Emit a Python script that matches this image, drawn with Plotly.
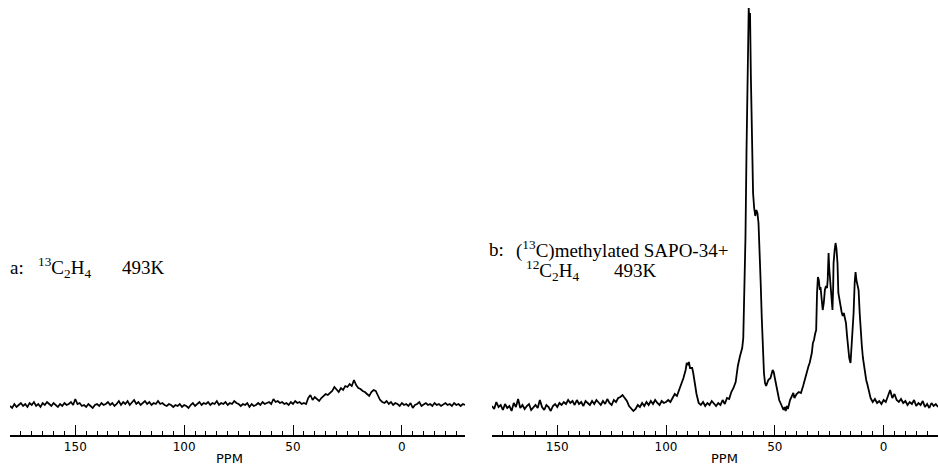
import plotly.graph_objects as go

# ---------------- Spectrum a: 13C2H4, 493K (1 ppm grid, 180 -> -29 ppm) ----------------
ppm_a = list(range(180, -30, -1))
int_a = [
    0, -2, 2, -1, 1, 3, 0, 2, -1, 3,      # 180-171
    1, 4, 0, 2, -1, 3, 1, 4, 2, 0,        # 170-161
    3, 1, -1, 2, 0, 3, 1, 2, 4, 1,        # 160-151
    7, 2, 3, 0, 1, -1, 2, 0, -2, 1,       # 150-141
    2, 0, 3, 1, 2, 4, 1, 3, 0, 2,         # 140-131
    5, 1, 4, 2, 5, 1, 3, 6, 2, 4,         # 130-121
    1, 3, 5, 2, 4, 1, 3, 2, 5, 2,         # 120-111
    3, 1, 0, 2, 1, -1, 1, 0, 2, -1,       # 110-101
    1, 0, -2, 1, 3, 0, 2, 4, 1, 3,        # 100-91
    2, 4, 1, 3, 2, 5, 1, 3, 2, 4,         # 90-81
    1, 3, 2, 5, 3, 2, 0, 2, 1, 3,         # 80-71
    -1, 2, 0, 1, 3, 1, 4, 2, 3, 4,        # 70-61
    2, 7, 4, 5, 3, 4, 2, 3, 1, 4,         # 60-51
    2, 5, 3, 4, 2, 3, 2, 8, 11, 6,        # 50-41
    9, 7, 5, 8, 10, 12, 11, 13, 15, 19,   # 40-31
    16, 14, 18, 16, 20, 19, 22, 20, 26, 21,  # 30-21
    18, 17, 15, 14, 12, 10, 14, 16, 15, 10,  # 20-11
    6, 4, 3, 5, 2, 4, 1, 3, 2, 0,         # 10-1
    3, 1, 2, 0, 3, -2, 1, 2, 4, 0,        # 0..-9
    2, 3, 1, 2, 0, 3, 1, 2, 0, 2,         # -10..-19
    3, 1, 2, 0, 3, 1, 2, 0, 2, 1,         # -20..-29
]

# ---------------- Spectrum b: (13C)methylated SAPO-34 + 12C2H4, 493K ----------------
# baseline part 180 -> 91 ppm
ppm_b1 = list(range(180, 90, -1))
int_b1 = [
    2, -1, 6, 1, 3, -2, 4, 0, 2, -3,
    5, 1, 9, 0, 3, -1, 2, 4, -2, 1,
    3, 0, 8, 1, -2, 3, 1, -3, 2, 4,
    1, 5, 3, 6, 4, 8, 5, 7, 3, 8,
    4, 6, 2, 7, 5, 3, 7, 4, 8, 5,
    3, 7, 4, 9, 5, 3, 8, 6, 10, 11,
    13, 10, 7, 2, -1, -3, -1, 3, 1, 5,
    2, 6, 3, 7, 4, 8, 5, 3, 7, 5,
    6, 8, 6, 10, 14, 12, 18, 22, 30, 38,
]
# peak region 90.5 -> 5 ppm
ppm_b2 = [
    90.5, 90, 89.5, 89, 88, 87.5, 87, 86, 85, 84,
    83, 82, 81, 80, 79, 78, 77, 76, 75, 74,
    73, 72, 71, 70, 69, 68, 67, 66, 65, 64.5,
    64, 63.5, 63, 62.5, 62, 61.7, 61.4, 61, 60.5, 60,
    59.5, 59, 58.5, 58, 57.5, 57, 56.5, 56, 55.5, 55,
    54.5, 54, 53, 52, 51, 50.5, 50, 49, 48, 47,
    46, 45.5, 45, 44.5, 44, 43, 42, 41.5, 41, 40,
    39, 38, 37, 36, 35, 34.5, 34, 33, 32.5, 32,
    31.5, 31, 30.6, 30.2, 29.8, 29.3, 29, 28.5, 28, 27.5,
    27, 26.5, 26, 25.7, 25.3, 25, 24.5, 24, 23.5, 23.2,
    23, 22.5, 22.1, 21.7, 21.2, 20.8, 20.3, 19.8, 19.3, 18.8,
    18.3, 17.8, 17.3, 16.8, 16.3, 15.8, 15.2, 14.7, 14.2, 13.8,
    13.3, 12.9, 12.5, 12, 11.5, 11, 10.6, 10, 9.5, 9,
    8.5, 8, 7.5, 7, 6.5, 6, 5.5, 5,
]
int_b2 = [
    45, 43, 46, 40, 40, 35, 28, 14, 5, 3,
    6, 2, 5, 3, 7, 4, 2, 5, 3, 8,
    4, 10, 9, 16, 20, 26, 42, 52, 60, 70,
    110, 170, 260, 350, 400, 385, 395, 330, 260, 215,
    200, 192, 198, 195, 185, 160, 125, 90, 55, 35,
    25, 22, 28, 30, 38, 36, 30, 18, 8, 3,
    -2, 1, -3, 2, -1, 8, 12, 15, 10, 14,
    16, 15, 22, 31, 38, 42, 45, 55, 65, 68,
    74, 78, 115, 131, 128, 118, 121, 108, 98, 105,
    118, 122, 120, 128, 155, 140, 122, 108, 98, 120,
    145, 158, 165, 160, 145, 115, 108, 100, 96, 92,
    95, 90, 85, 72, 60, 50, 45, 60, 80, 95,
    125, 136, 128, 122, 118, 95, 75, 62, 50, 42,
    35, 28, 24, 18, 14, 10, 8, 6,
]
# baseline part 4 -> -25 ppm
ppm_b3 = list(range(4, -26, -1))
int_b3 = [9, 5, 7, 4, 8, 6, 12, 18, 10, 14, 8, 6, 9, 5, 7,
          3, 6, 4, 8, 2, 5, 3, 7, 1, 4, 0, 5, 2, 4, 1]

assert len(ppm_a) == len(int_a)
assert len(ppm_b1) == len(int_b1)
assert len(ppm_b2) == len(int_b2)
assert len(ppm_b3) == len(int_b3)

ppm_b = ppm_b1 + ppm_b2 + ppm_b3
int_b = int_b1 + int_b2 + int_b3

W, H = 939, 466

fig = go.Figure()
fig.add_trace(go.Scatter(x=ppm_a, y=int_a, mode="lines",
                         line=dict(color="black", width=1.7),
                         xaxis="x", yaxis="y", hoverinfo="skip"))
fig.add_trace(go.Scatter(x=ppm_b, y=int_b, mode="lines",
                         line=dict(color="black", width=1.8),
                         xaxis="x2", yaxis="y2", hoverinfo="skip"))

def xax(domain, rng, anchor):
    return dict(
        domain=domain, range=rng, anchor=anchor,
        showline=True, linecolor="black", linewidth=1.5,
        showgrid=False, zeroline=False,
        ticks="inside", ticklen=10, tickwidth=1.3, tickcolor="black",
        tickmode="linear", tick0=0, dtick=50,
        tickfont=dict(family="DejaVu Sans", size=12, color="black"),
        minor=dict(ticks="inside", ticklen=4, tickwidth=1, tickcolor="black",
                   tickmode="linear", tick0=0, dtick=5, showgrid=False),
    )

ydom = [31 / H, 1]
fig.update_layout(
    width=W, height=H,
    margin=dict(l=0, r=0, t=0, b=0),
    paper_bgcolor="white", plot_bgcolor="white",
    showlegend=False,
    xaxis=xax([10 / W, 465 / W], [180, -29], "y"),
    yaxis=dict(domain=ydom, range=[-29, 406], visible=False),
    xaxis2=xax([492 / W, 938 / W], [180, -25], "y2"),
    yaxis2=dict(domain=ydom, range=[-27, 408], visible=False),
)

serif = dict(family="Liberation Serif", size=19, color="black")
sans = dict(family="DejaVu Sans", size=13, color="black")

def ann(text, px, py, font, xanchor="left"):
    fig.add_annotation(text=text, x=px / W, y=1 - py / H, xref="paper", yref="paper",
                       xanchor=xanchor, yanchor="middle", showarrow=False, font=font)

ann("a:", 8, 267, serif)
ann("<sup>13</sup>C<sub>2</sub>H<sub>4</sub>", 36, 267, serif)
ann("493K", 120, 267, serif)

ann("b:", 487, 250, serif)
ann("(<sup>13</sup>C)methylated SAPO-34+", 514, 250, serif)
ann("<sup>12</sup>C<sub>2</sub>H<sub>4</sub>", 524, 270, serif)
ann("493K", 612, 270, serif)

ann("PPM", 229, 458, sans, "center")
ann("PPM", 724, 458, sans, "center")

fig.write_html(
    "out.html",
    config={"displayModeBar": False},
    post_script="document.body.style.margin='0px';document.body.style.padding='0px';"
                "document.body.style.overflow='hidden';",
)
